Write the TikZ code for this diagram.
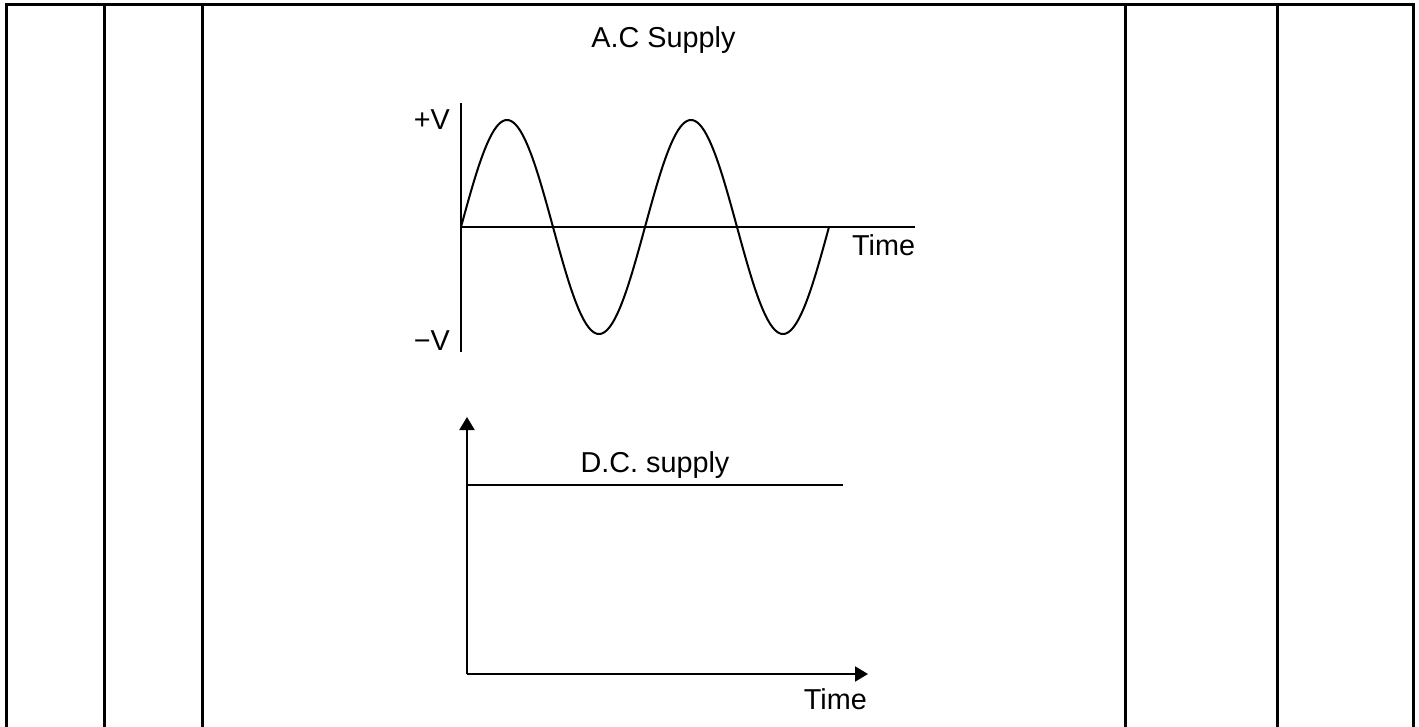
\documentclass[tikz,border=0pt]{standalone}
\usepackage{fontspec}
\setmainfont{Liberation Sans}
\usetikzlibrary{arrows.meta}
\begin{document}
\begin{tikzpicture}[x=1pt,y=-1pt,
  grid/.style={line width=3pt,line cap=rect},
  axis/.style={line width=2pt},
  wave/.style={line width=2pt},
  lbl/.style={inner sep=0pt,font=\fontsize{28.8}{34}\selectfont},
  arr/.style={-{Triangle[length=13pt,width=15pt]}}]
\useasboundingbox (0,0) rectangle (1419,726);
% table rules
\coordinate (tl) at (6,4);
\coordinate (tr) at (1413,4);
\draw[grid] (tl) -- (tr);
\foreach \xx in {6,104,202,1125,1277,1413}
  \draw[grid] (\xx,4) -- (\xx,728);
% title
\node[lbl,anchor=base] (title) at (663.5,47) {A.C Supply};
% AC graph
\coordinate (acTop) at (461,103);
\coordinate (acBot) at (461,352);
\coordinate (acO) at (461,227);
\coordinate (acEnd) at (915,227);
\draw[axis] (acTop) -- (acBot);
\draw[axis] (acO) -- (acEnd);
\draw[wave,line join=round] plot[domain=0:720,samples=241,smooth] ({461+0.511111*\x},{227-107*sin(\x)});
\node[lbl,anchor=base east] (pv) at (450,129) {+V};
\node[lbl,anchor=base east] (mv) at (450,350) {−V};
\node[lbl,anchor=base west] (t1) at (852,255) {Time};
% DC graph
\coordinate (dcO) at (467,674);
\coordinate (dcY) at (467,417);
\coordinate (dcX) at (868,674);
\coordinate (dcA) at (467,485);
\coordinate (dcB) at (843,485);
\draw[axis,arr] (dcO) -- (dcY);
\draw[axis,arr] (dcO) -- (dcX);
\draw[axis] (dcA) -- (dcB);
\node[lbl,anchor=base] (dcl) at (655,472) {D.C. supply};
\node[lbl,anchor=base east] (t2) at (867,709) {Time};
\end{tikzpicture}
\end{document}
